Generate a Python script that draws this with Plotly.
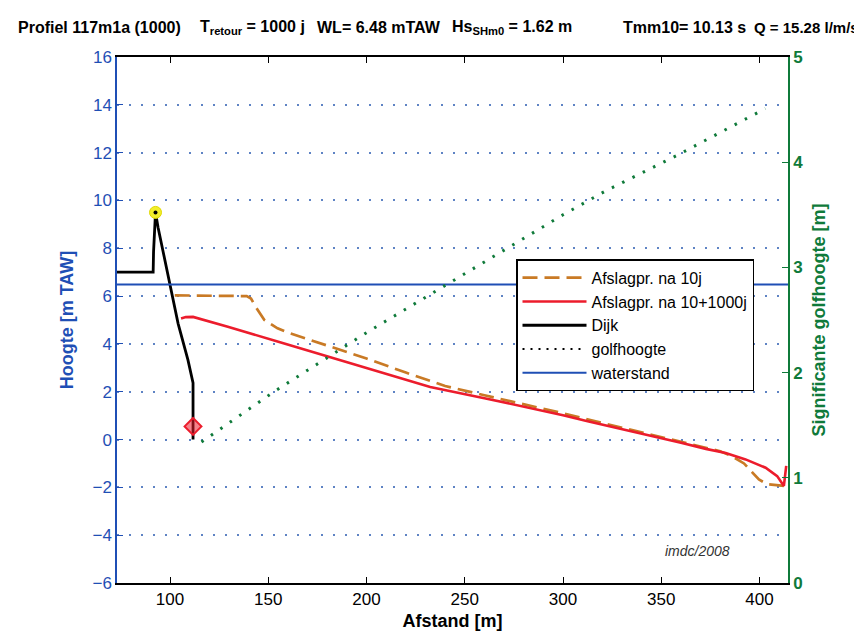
import plotly.graph_objects as go

# ---------------- data ----------------
dike_x = [73.0, 91.4, 91.6, 92.6, 93.9, 100.7, 104.1, 109.1, 111.7, 111.7]
dike_y = [7.0, 7.0, 7.85, 9.5, 8.87, 6.1, 4.85, 3.33, 2.37, 0.0]

red_x = [105.6, 108, 111.7, 129.4, 154.7, 180, 200, 220, 232.4, 260, 278, 300,
         312, 330, 346, 360, 372.7, 382.8, 392.9, 403.1, 409.0, 412.4, 413.6]
red_y = [5.06, 5.12, 5.13, 4.72, 4.10, 3.48, 2.99, 2.50, 2.20, 1.73, 1.42, 1.02,
         0.78, 0.45, 0.14, -0.13, -0.39, -0.56, -0.83, -1.18, -1.53, -1.94, -1.10]

orange_x = [102.4, 110, 120, 130, 136, 139, 141.2, 144, 148, 154.7, 160, 180, 200,
            220, 240, 260, 280, 300, 320, 340, 360, 380, 386, 392.1, 399.7, 404, 412.4]
orange_y = [6.03, 6.03, 6.02, 6.03, 6.02, 6.0, 5.9, 5.5, 5.0, 4.65, 4.47, 3.93, 3.39,
            2.80, 2.24, 1.85, 1.48, 1.10, 0.69, 0.30, -0.09, -0.49, -0.70, -1.0, -1.67, -1.87, -1.94]

golf_x = [116, 153, 200, 250, 300, 322, 357.5, 403]
golf_y = [1.34, 1.82, 2.38, 2.94, 3.50, 3.73, 4.06, 4.51]

wl_x = [73.0, 414.5]
wl_y = [6.48, 6.48]

crest_x, crest_y = [92.6], [9.5]
toe_x, toe_y = [111.7], [0.55]

x_ticks = [100, 150, 200, 250, 300, 350, 400]

header = [
    (8, 16, "Profiel 117m1a (1000)"),
    (190, 16, "T<sub>retour</sub> = 1000 j"),
    (307, 16, "WL= 6.48 mTAW"),
    (442, 16, "Hs<sub>SHm0</sub> = 1.62 m"),
    (613, 16, "Tmm10= 10.13 s"),
    (744, 15, "Q = 15.28 l/m/s"),
]

# ---------------- styles ----------------
BLUE = "#1f4fb5"
GREEN = "#0f7a3a"
ORANGE = "#c97a25"
RED = "#ec1c2c"
FONT = "Liberation Sans, Arial, sans-serif"

fig = go.Figure()

fig.add_trace(go.Scatter(x=orange_x, y=orange_y, mode="lines", name="Afslagpr. na 10j",
                         line=dict(color=ORANGE, width=2.7, dash="15px,7px")))
fig.add_trace(go.Scatter(x=red_x, y=red_y, mode="lines", name="Afslagpr. na 10+1000j",
                         line=dict(color=RED, width=2.6)))
fig.add_trace(go.Scatter(x=dike_x, y=dike_y, mode="lines", name="Dijk",
                         line=dict(color="black", width=2.8)))
# legend entry for golfhoogte (black dotted in the legend)
fig.add_trace(go.Scatter(x=[None], y=[None], mode="lines", name="golfhoogte",
                         line=dict(color="black", width=2, dash="2px,6px")))
fig.add_trace(go.Scatter(x=wl_x, y=wl_y, mode="lines", name="waterstand",
                         line=dict(color=BLUE, width=2)))
fig.add_trace(go.Scatter(x=golf_x, y=golf_y, mode="lines", name="golfhoogte", showlegend=False,
                         yaxis="y2", line=dict(color=GREEN, width=3, dash="2.5px,9px")))
fig.add_trace(go.Scatter(x=crest_x, y=crest_y, mode="markers", showlegend=False,
                         marker=dict(color="#f2ee2a", size=12, line=dict(color="#e0d800", width=1))))
fig.add_trace(go.Scatter(x=crest_x, y=crest_y, mode="markers", showlegend=False,
                         marker=dict(color="black", size=4)))
fig.add_trace(go.Scatter(x=toe_x, y=toe_y, mode="markers", showlegend=False,
                         marker=dict(symbol="diamond", color="rgba(236,28,44,0.55)", size=13,
                                     line=dict(color=RED, width=2))))

annotations = []
for px, fs, txt in header:
    annotations.append(dict(text=txt, xref="paper", yref="paper",
                            x=(px - 109) / 671, y=1 + (49 - 19) / 528,
                            xanchor="left", yanchor="middle", showarrow=False,
                            font=dict(family=FONT, size=fs, color="black", weight="bold")))
annotations.append(dict(text="<i>imdc/2008</i>", x=386, y=-4.65, xref="x", yref="y",
                        xanchor="right", yanchor="middle", showarrow=False,
                        font=dict(family=FONT, size=14, color="#333333")))

fig.update_layout(
    width=862, height=632,
    margin=dict(l=109, r=82, t=49, b=55),
    paper_bgcolor="white", plot_bgcolor="white",
    font=dict(family=FONT, color="black"),
    showlegend=True,
    legend=dict(x=(508 - 109) / 671, y=1 - (252 - 49) / 528, xanchor="left", yanchor="top",
                bgcolor="white", bordercolor="black", borderwidth=1.5,
                font=dict(family=FONT, size=16, color="black"),
                tracegroupgap=0, itemwidth=64),
    xaxis=dict(range=[73, 414.5], tickvals=x_ticks, ticks="inside", ticklen=6,
               tickcolor="black", showline=True, linecolor="black", linewidth=1.5,
               mirror="ticks", showgrid=False, zeroline=False,
               tickfont=dict(size=17, color="black"),
               title=dict(text="<b>Afstand [m]</b>", font=dict(size=18, color="black"), standoff=6)),
    yaxis=dict(range=[-6, 16], tick0=-6, dtick=2, ticks="inside", ticklen=6,
               tickcolor=BLUE, showline=True, linecolor=BLUE, linewidth=1.5,
               showgrid=True, gridcolor="#5f83c4", gridwidth=1.5, griddash="2px,10px",
               zeroline=False, tickfont=dict(size=17, color=BLUE),
               title=dict(text="<b>Hoogte [m TAW]</b>", font=dict(size=18, color=BLUE), standoff=14)),
    yaxis2=dict(range=[0, 5], dtick=1, overlaying="y", side="right", ticks="inside",
                ticklen=6, tickcolor=GREEN, showline=True, linecolor=GREEN, linewidth=1.5,
                showgrid=False, zeroline=False,
                tickfont=dict(size=17, color=GREEN, weight="bold"),
                title=dict(text="<b>Significante golfhoogte [m]</b>",
                           font=dict(size=18, color=GREEN), standoff=10)),
    annotations=annotations,
)

fig.write_html("out.html")
